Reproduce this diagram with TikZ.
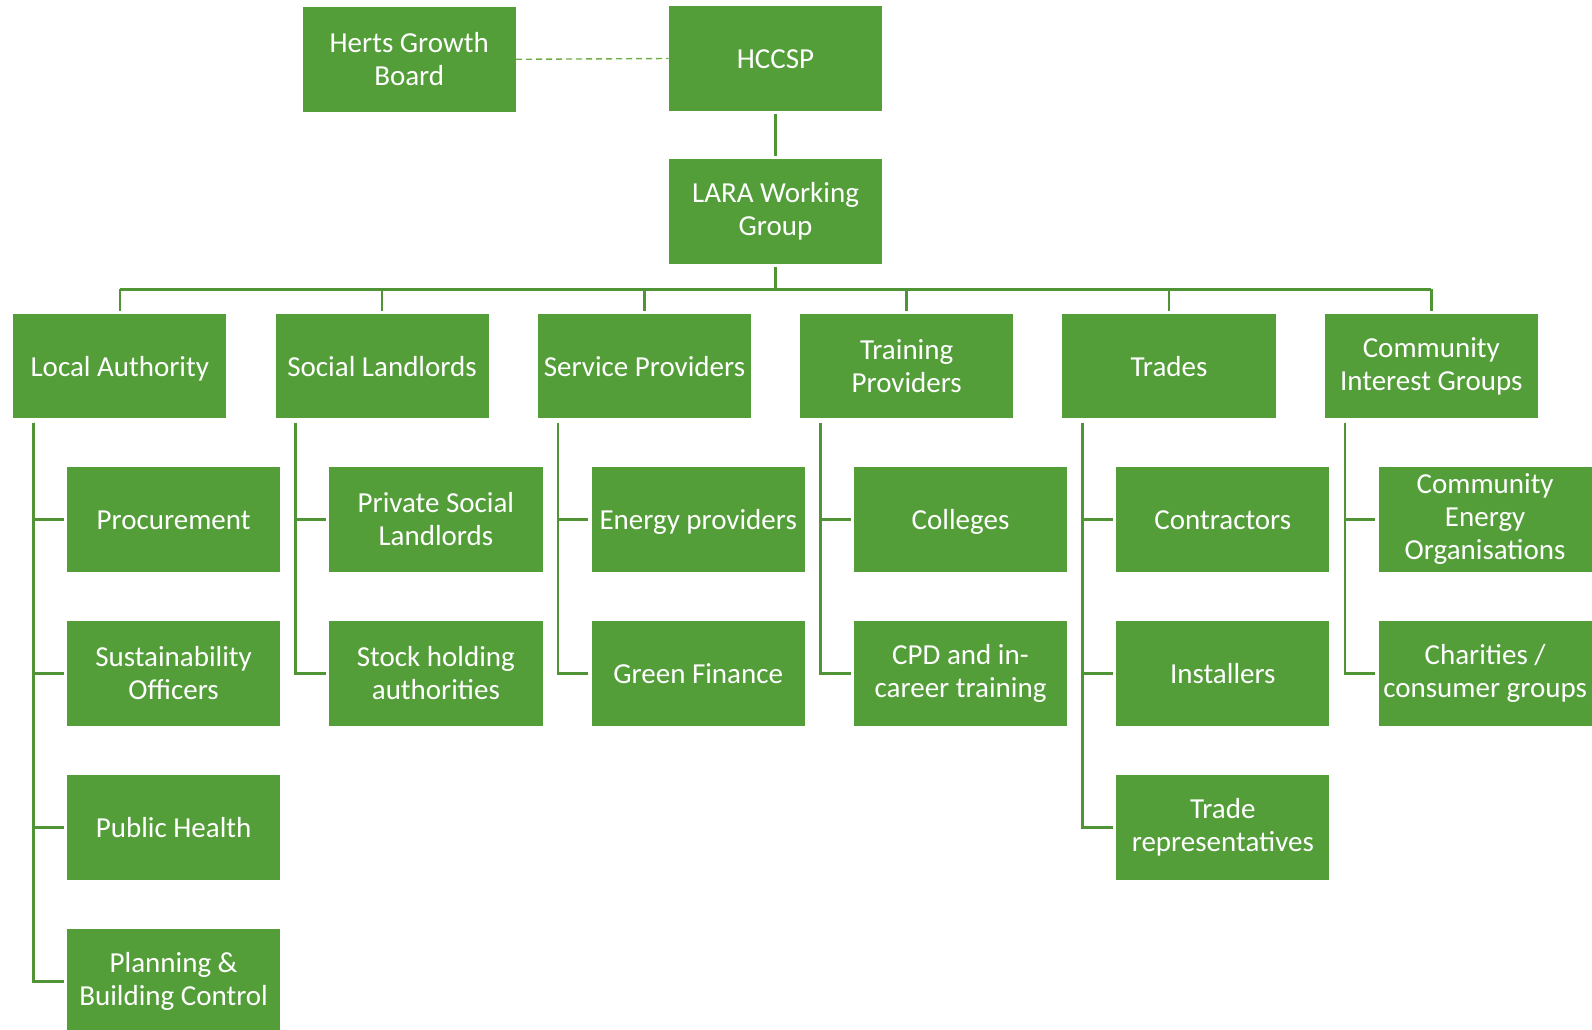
\documentclass[tikz,border=0pt]{standalone}
\usepackage{fontspec}
\setmainfont{Carlito}
\definecolor{boxgreen}{RGB}{84,158,58}
\definecolor{linegreen}{RGB}{80,148,54}
\definecolor{dashgreen}{RGB}{112,173,71}
\begin{document}
\begin{tikzpicture}[x=1pt,y=-1pt,
  box/.style={fill=boxgreen,draw=none,minimum width=213.2pt,minimum height=104.6pt,
    inner sep=0pt,align=center,text=white,
    font=\fontsize{29}{32.8}\selectfont,anchor=center},
  single/.style={box,
    execute at begin node={\rule{0pt}{27.25pt}},
    execute at end node={\rule[-7.25pt]{0pt}{7.25pt}}},
  conn/.style={draw=linegreen,line width=2.6pt},
  dashconn/.style={draw=dashgreen,line width=1.4pt,dash pattern=on 6pt off 4pt}]
\useasboundingbox (0,0) rectangle (1592,1030);
\clip (0,0) rectangle (1592,1030);
% top
\node[box] (hgb) at (409.2,59.3) {Herts Growth\\Board};
\node[single] (hccsp) at (775.5,58.5) {HCCSP};
\node[box] (lara) at (775.5,211.5) {LARA Working\\Group};
% level 2
\node[single] (la) at (119.8,366) {Local Authority};
\node[single] (sl) at (382.1,366) {Social Landlords};
\node[single] (sp) at (644.4,366) {Service Providers};
\node[box] (tp) at (906.7,366) {Training\\Providers};
\node[single] (tr) at (1169,366) {Trades};
\node[box] (ci) at (1431.3,366) {Community\\Interest Groups};
% children
\node[single] (la1) at (173.6,519.3) {Procurement};
\node[box] (la2) at (173.6,673.3) {Sustainability\\Officers};
\node[single] (la3) at (173.6,827.3) {Public Health};
\node[box] (la4) at (173.6,981.3) {Planning \&\\Building Control};
\node[box] (sl1) at (435.9,519.3) {Private Social\\Landlords};
\node[box] (sl2) at (435.9,673.3) {Stock holding\\authorities};
\node[single] (sp1) at (698.2,519.3) {Energy providers};
\node[single] (sp2) at (698.2,673.3) {Green Finance};
\node[single] (tp1) at (960.5,519.3) {Colleges};
\node[box] (tp2) at (960.5,673.3) {CPD and in-\\career training};
\node[single] (tr1) at (1222.8,519.3) {Contractors};
\node[single] (tr2) at (1222.8,673.3) {Installers};
\node[box] (tr3) at (1222.8,827.3) {Trade\\representatives};
\node[box] (ci1) at (1485.1,519.3) {Community\\Energy\\Organisations};
\node[box] (ci2) at (1485.1,673.3) {Charities /\\consumer groups};
% dashed link
\draw[dashconn] (hgb.east) -- (hccsp.west);
% hccsp to lara
\draw[conn,shorten <=3pt,shorten >=3pt] (hccsp.south) -- (lara.north);
% bus
\coordinate (bus) at (775.5,289.4);
\draw[conn,shorten <=3pt] (lara.south) -- (bus);
\draw[conn] (la.north |- bus) -- (ci.north |- bus);
\foreach \p in {la,sl,sp,tp,tr,ci}{
  \draw[conn,shorten >=3pt] (\p.north |- bus) -- (\p.north);
}
% spines
\foreach \p/\c in {la/la1,la/la2,la/la3,la/la4,sl/sl1,sl/sl2,sp/sp1,sp/sp2,tp/tp1,tp/tp2,tr/tr1,tr/tr2,tr/tr3,ci/ci1,ci/ci2}{
  \draw[conn] ([xshift=20.3pt,yshift=-4pt]\p.south west) |- ([xshift=-3pt]\c.west);
}
\end{tikzpicture}
\end{document}
